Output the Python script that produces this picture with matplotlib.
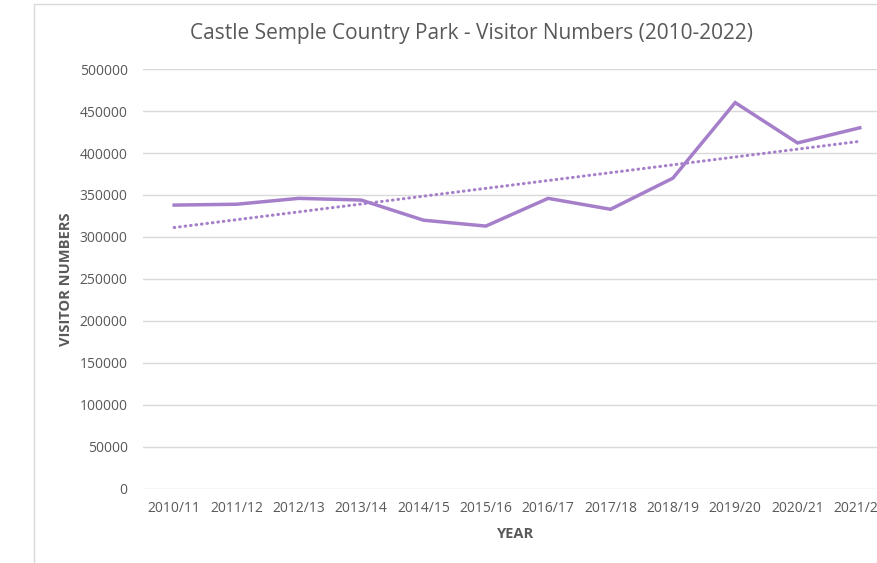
import matplotlib.pyplot as plt
import numpy as np
from matplotlib.patches import Rectangle

years = ['2010/11', '2011/12', '2012/13', '2013/14', '2014/15', '2015/16',
         '2016/17', '2017/18', '2018/19', '2019/20', '2020/21', '2021/22']
visitors = [338000, 339000, 346000, 344000, 320000, 313000,
            346000, 333000, 370000, 460000, 412000, 430000]
yticks = [0, 50000, 100000, 150000, 200000, 250000, 300000, 350000, 400000, 450000, 500000]

plt.rcParams['font.family'] = ['Open Sans', 'DejaVu Sans']
grey = '#595959'
purple = '#a67fca'

W, H = 877, 563
fig = plt.figure(figsize=(W / 100, H / 100), dpi=100)

# chart border (cut at right/bottom like the screenshot)
fig.patches.append(Rectangle((33.5 / W, -0.1), 1.2, 1.1 - 4.5 / H,
                             transform=fig.transFigure, fill=False,
                             edgecolor='#d9d9d9', linewidth=1))

ax = fig.add_axes([143 / W, (H - 489) / H, (891 - 143) / W, 420 / H])
x = np.arange(len(years))
ax.plot(x, visitors, color=purple, linewidth=2.5, solid_joinstyle='miter', zorder=3)

# linear trendline
m, b = np.polyfit(x, visitors, 1)
ax.plot(x, m * x + b, color=purple, linewidth=2.2, linestyle=(0, (0.2, 1.6)),
        dash_capstyle='round', zorder=3)

ax.set_xlim(-0.5, len(years) - 0.5)
ax.set_ylim(0, 500000)
ax.set_yticks(yticks)
ax.set_yticklabels([str(v) for v in yticks])
ax.set_xticks(x)
ax.set_xticklabels(years)
ax.grid(axis='y', color='#d9d9d9', linewidth=1)
ax.set_axisbelow(True)
for s in ax.spines.values():
    s.set_visible(False)
ax.tick_params(length=0, labelsize=10, colors=grey)
ax.tick_params(axis='x', pad=9)
ax.tick_params(axis='y', pad=11)

fig.text(66 / W, (H - 279) / H, 'VISITOR NUMBERS', rotation=90,
         ha='center', va='center', fontsize=10.5, fontweight='bold', color=grey)
fig.text(516 / W, (H - 534) / H, 'YEAR', ha='center', va='center',
         fontsize=10.5, fontweight='bold', color=grey)
fig.text(471 / W, (H - 33) / H, 'Castle Semple Country Park - Visitor Numbers (2010-2022)',
         ha='center', va='center', fontsize=15, color=grey)

fig.savefig('out.png', dpi=100)
